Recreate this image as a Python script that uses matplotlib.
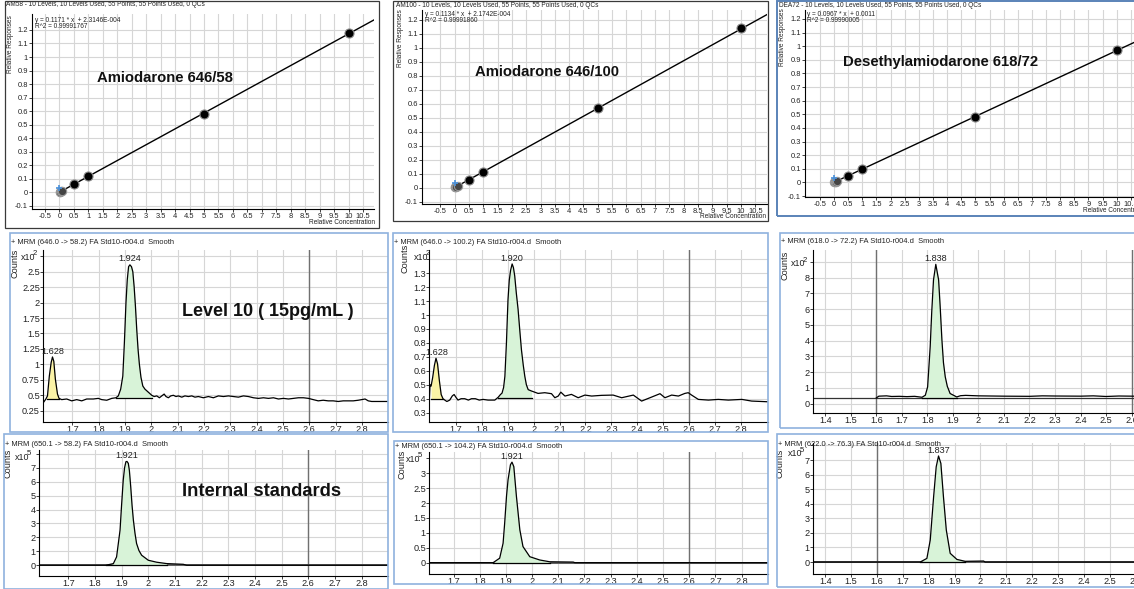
import numpy as np
import matplotlib
matplotlib.use("Agg")
import matplotlib.pyplot as plt
from matplotlib.patches import Rectangle

plt.rcParams['font.family'] = ['Liberation Sans', 'DejaVu Sans']

# ---------------- calibration data ----------------
cal_conc = [0.01, 0.02, 0.05, 0.1, 0.5, 1, 5, 10]
am58_resp = [0.001, 0.0025, 0.006, 0.012, 0.059, 0.117, 0.579, 1.174]
am100_resp = [0.001, 0.0025, 0.006, 0.012, 0.057, 0.114, 0.567, 1.138]
dea72_resp = [0.002, 0.003, 0.006, 0.011, 0.050, 0.098, 0.480, 0.972]
am58_fit = [0.1171, 2.3146e-4]
am100_fit = [0.1134, 2.1742e-4]
dea72_fit = [0.0967, 0.0011]
qc_point = [0.0, 0.03]
cal_xticks = [-0.5, 0, 0.5, 1, 1.5, 2, 2.5, 3, 3.5, 4, 4.5, 5, 5.5, 6, 6.5, 7, 7.5, 8, 8.5, 9, 9.5, 10, 10.5]
cal_yticks = [-0.1, 0, 0.1, 0.2, 0.3, 0.4, 0.5, 0.6, 0.7, 0.8, 0.9, 1, 1.1, 1.2]

# ---------------- chromatogram data ----------------
am58_t = [1.590, 1.600, 1.606, 1.613, 1.620, 1.625, 1.630, 1.636, 1.644, 1.650, 1.660, 1.679, 1.698, 1.717,
          1.736, 1.755, 1.780, 1.799, 1.812, 1.831, 1.850, 1.866,
          1.875, 1.884, 1.892, 1.898, 1.904, 1.909, 1.914, 1.919, 1.925, 1.930, 1.935, 1.940, 1.945, 1.950,
          1.955, 1.961, 1.968, 1.976, 1.989, 2.002, 2.011,
          2.021, 2.031, 2.040, 2.049, 2.056, 2.065, 2.074, 2.084, 2.094, 2.103, 2.116, 2.128, 2.141, 2.154,
          2.166, 2.179, 2.198, 2.217, 2.236, 2.255, 2.274, 2.293, 2.312, 2.331, 2.350, 2.369, 2.388, 2.407,
          2.426, 2.445, 2.464, 2.483, 2.502, 2.521, 2.540, 2.559, 2.578, 2.597, 2.615, 2.634, 2.653, 2.672,
          2.691, 2.710, 2.729, 2.748, 2.767, 2.786, 2.799, 2.812, 2.824, 2.837, 2.899]
am58_v = [0.38, 0.44, 0.49, 0.81, 1.03, 1.12, 1.05, 0.76, 0.52, 0.45, 0.43, 0.44, 0.41, 0.43, 0.41, 0.44,
          0.44, 0.45, 0.43, 0.42, 0.45, 0.46,
          0.49, 0.60, 0.81, 1.35, 1.99, 2.37, 2.58, 2.61, 2.58, 2.50, 2.26, 1.94, 1.56, 1.24, 1.00, 0.79,
          0.65, 0.60, 0.55, 0.50, 0.48,
          0.49, 0.46, 0.49, 0.52, 0.48, 0.46, 0.49, 0.50, 0.48, 0.49, 0.47, 0.49, 0.48, 0.49, 0.47, 0.48,
          0.46, 0.48, 0.46, 0.49, 0.48, 0.49, 0.48, 0.47, 0.49, 0.48, 0.46, 0.45, 0.46, 0.45, 0.46, 0.44,
          0.45, 0.44, 0.45, 0.46, 0.46, 0.45, 0.43, 0.41, 0.42, 0.41, 0.41, 0.40, 0.41, 0.41, 0.41, 0.42,
          0.43, 0.44, 0.41, 0.40, 0.40]

am100_t = [1.597, 1.600, 1.604, 1.610, 1.617, 1.623, 1.629, 1.636, 1.643, 1.650, 1.657, 1.665, 1.676, 1.686,
           1.693, 1.700, 1.708, 1.720, 1.734, 1.748, 1.760, 1.775, 1.790, 1.805, 1.824, 1.840, 1.850, 1.863,
           1.872, 1.878, 1.884, 1.889, 1.895, 1.901, 1.906, 1.911, 1.917, 1.922, 1.927, 1.933, 1.940, 1.947,
           1.953, 1.960, 1.966, 1.972, 1.979, 1.992, 2.017, 2.043, 2.069, 2.082, 2.095, 2.105, 2.121, 2.146,
           2.172, 2.198, 2.224, 2.262, 2.307, 2.340, 2.385, 2.417, 2.456, 2.488, 2.507, 2.533, 2.559, 2.584,
           2.597, 2.610, 2.636, 2.675, 2.713, 2.752, 2.804, 2.842, 2.905]
am100_v = [0.38, 0.50, 0.49, 0.55, 0.64, 0.69, 0.65, 0.53, 0.43, 0.40, 0.39, 0.38, 0.39, 0.42, 0.43, 0.41,
           0.39, 0.40, 0.40, 0.39, 0.40, 0.40, 0.39, 0.395, 0.39, 0.39, 0.39, 0.41, 0.43, 0.44, 0.48, 0.56,
           0.80, 1.11, 1.25, 1.32, 1.366, 1.34, 1.28, 1.16, 1.04, 0.88, 0.75, 0.64, 0.56, 0.50, 0.465, 0.455,
           0.438, 0.443, 0.436, 0.407, 0.419, 0.447, 0.419, 0.431, 0.407, 0.426, 0.419, 0.424, 0.426, 0.407,
           0.426, 0.383, 0.412, 0.436, 0.407, 0.426, 0.419, 0.438, 0.443, 0.426, 0.395, 0.390, 0.395, 0.390,
           0.395, 0.383, 0.378]

dea72_t = [1.600, 1.610, 1.640, 1.660, 1.690, 1.720, 1.750, 1.779, 1.792, 1.801, 1.811, 1.817, 1.824, 1.833,
           1.844, 1.850, 1.857, 1.863, 1.870, 1.878, 1.889, 1.915, 1.930, 1.950, 2.000, 2.100, 2.200, 2.250,
           2.300, 2.400, 2.450, 2.500, 2.550, 2.600, 2.672]
dea72_v = [0.36, 0.47, 0.49, 0.45, 0.46, 0.44, 0.46, 0.40, 0.53, 1.06, 3.61, 5.80, 7.86, 8.85, 7.86, 6.20,
           4.03, 2.60, 1.70, 1.10, 0.64, 0.42, 0.50, 0.52, 0.49, 0.47, 0.46, 0.49, 0.48, 0.47, 0.49, 0.45,
           0.48, 0.47, 0.46]

is58_t = [1.590, 1.841, 1.869, 1.881, 1.894, 1.900, 1.906, 1.911, 1.916, 1.920, 1.925, 1.929, 1.934, 1.939,
          1.944, 1.950, 1.956, 1.965, 1.975, 2.000, 2.031, 2.069, 2.131, 2.144, 2.899]
is58_v = [0.0, 0.0, 0.12, 0.60, 2.52, 4.40, 6.12, 7.00, 7.43, 7.45, 7.31, 6.80, 5.64, 4.30, 3.24, 2.30,
          1.56, 1.05, 0.72, 0.36, 0.22, 0.12, 0.07, 0.0, 0.0]

is104_t = [1.606, 1.851, 1.876, 1.889, 1.895, 1.902, 1.908, 1.917, 1.923, 1.930, 1.940, 1.953, 1.965, 1.991,
           2.029, 2.067, 2.157, 2.163, 2.901]
is104_v = [0.0, 0.0, 0.15, 0.65, 1.32, 2.22, 2.78, 3.28, 3.37, 3.22, 2.22, 1.10, 0.54, 0.20, 0.09, 0.03,
           0.02, 0.0, 0.0]

is76_t = [1.353, 1.767, 1.793, 1.806, 1.819, 1.829, 1.838, 1.847, 1.857, 1.868, 1.883, 1.909, 1.941, 2.012,
          2.018, 2.655]
is76_v = [0.0, 0.0, 0.25, 1.51, 4.48, 6.54, 7.28, 6.77, 4.48, 2.20, 0.60, 0.18, 0.05, 0.07, 0.0, 0.0]

rt_ticks_a = [1.7, 1.8, 1.9, 2.0, 2.1, 2.2, 2.3, 2.4, 2.5, 2.6, 2.7, 2.8]
rt_ticks_b = [1.4, 1.5, 1.6, 1.7, 1.8, 1.9, 2.0, 2.1, 2.2, 2.3, 2.4, 2.5, 2.6]
am58_yticks = [0.25, 0.5, 0.75, 1, 1.25, 1.5, 1.75, 2, 2.25, 2.5, 2.75]
am100_yticks = [0.3, 0.4, 0.5, 0.6, 0.7, 0.8, 0.9, 1, 1.1, 1.2, 1.3, 1.4]
dea72_yticks = [0, 1, 2, 3, 4, 5, 6, 7, 8, 9]
is58_yticks = [0, 1, 2, 3, 4, 5, 6, 7, 8]
is104_yticks = [0, 0.5, 1, 1.5, 2, 2.5, 3, 3.5]
is76_yticks = [0, 1, 2, 3, 4, 5, 6, 7, 8]

# ---------------- layout helpers ----------------
W, H = 1134, 589
fig = plt.figure(figsize=(W / 100, H / 100), dpi=100)
fig.patch.set_facecolor('white')


def ax_at(l, t, r, b):
    return fig.add_axes([l / W, 1 - b / H, (r - l) / W, (b - t) / H])


def box(l, t, r, b, color, lw):
    fig.add_artist(Rectangle((l / W, 1 - b / H), (r - l) / W, (b - t) / H, transform=fig.transFigure,
                             fill=False, ec=color, lw=lw, zorder=10))


def ftext(x, y, s, **kw):
    kw.setdefault('va', 'center')
    fig.text(x / W, 1 - y / H, s, **kw)


def fmt(v):
    return f'{v:g}'


GRID = '#d6d6d6'


def calib(rect, xlim, ylim, resp, fit):
    ax = ax_at(*rect)
    ax.set_xlim(xlim)
    ax.set_ylim(ylim)
    ax.set_xticks(cal_xticks)
    ax.set_yticks(cal_yticks)
    ax.set_xticklabels([fmt(v) for v in cal_xticks])
    ax.set_yticklabels([fmt(v) for v in cal_yticks])
    ax.grid(True, color=GRID, lw=0.8)
    ax.set_axisbelow(True)
    for s in ['top', 'right']:
        ax.spines[s].set_visible(False)
    for s in ['left', 'bottom']:
        ax.spines[s].set_linewidth(0.8)
    ax.tick_params(labelsize=5.4, length=2, width=0.6, pad=0.8, colors='#222')
    xs = np.array([0.0, xlim[1]])
    ax.plot(xs, fit[0] * xs + fit[1], color='k', lw=1.0, zorder=3)
    ax.plot(cal_conc[:4], resp[:4], 'o', ms=6, mfc='#444', mec='#999', mew=0.8, zorder=4)
    ax.plot(cal_conc[4:], resp[4:], 'o', ms=6.5, mfc='k', mec='#888', mew=0.8, zorder=4)
    ax.plot([qc_point[0]], [qc_point[1]], marker='+', ms=5, color='#4a90d9', mew=1.2, zorder=5)
    return ax


def chrom(rect, xlim, ylim, t, v, xticks, yticks, fills, peaks, darks, hline=None, zero=False):
    ax = ax_at(*rect)
    ax.set_xlim(xlim)
    ax.set_ylim(ylim)
    ax.set_xticks(xticks)
    ax.set_xticklabels([fmt(x) for x in xticks])
    ax.set_yticks(yticks)
    ax.set_yticklabels([fmt(y) for y in yticks[:-1]] + [''])
    ax.grid(True, color=GRID, lw=0.8)
    ax.set_axisbelow(True)
    for s in ['top', 'right']:
        ax.spines[s].set_visible(False)
    for s in ['left', 'bottom']:
        ax.spines[s].set_linewidth(0.8)
    ax.tick_params(labelsize=6.6, length=2, width=0.6, pad=0.2, colors='#222')
    for d in darks:
        ax.axvline(d, color='#707070', lw=1.0, zorder=1)
    t = np.asarray(t)
    v = np.asarray(v)
    if zero:
        ax.axhline(0, color='#555', lw=1.3, zorder=2)
    if hline is not None:
        ax.axhline(hline, color='#333', lw=0.9, zorder=2)
    for (t0, t1, base, col) in fills:
        m = (t > t0) & (t < t1)
        tt = np.concatenate([[t0], t[m], [t1]])
        vv = np.interp(tt, t, v)
        ax.fill_between(tt, vv, base, color=col, lw=0, zorder=2)
        ax.plot([t0, t1], [base, base], color='k', lw=0.9, zorder=3)
    ax.plot(t, v, color='k', lw=0.9, zorder=4)
    for (lbl, tp, vp) in peaks:
        ax.annotate(lbl, (tp, vp), xytext=(0, 1.0), textcoords='offset points', ha='center', va='bottom',
                    fontsize=6.6, color='#222', zorder=6, annotation_clip=False)
    return ax


GREEN = '#d8f3d8'
YELLOW = '#fbf3a6'

# ---------------- top row: calibration curves ----------------
calib((32, 14, 374, 209), (-0.95, 10.88), (-0.124, 1.318), am58_resp, am58_fit)
calib((422, 10, 767, 204), (-1.14, 10.91), (-0.117, 1.27), am100_resp, am100_fit)
calib((805, 10, 1150, 197), (-1.03, 11.18), (-0.107, 1.266), dea72_resp, dea72_fit)

box(5, 1, 379, 228, '#3a3a3a', 0.9)
box(393, 1, 768, 221, '#3a3a3a', 0.9)
box(777, 1, 1160, 216, '#5a83b8', 1.4)

hdr = dict(fontsize=4.7, color='#222')
ftext(6, 4.5, 'AM58 - 10 Levels, 10 Levels Used, 55 Points, 55 Points Used, 0 QCs', **hdr)
ftext(35, 20.5, 'y = 0.1171 * x  + 2.3146E-004', **hdr)
ftext(35, 26.5, 'R^2 = 0.99991767', **hdr)
ftext(396, 5.5, 'AM100 - 10 Levels, 10 Levels Used, 55 Points, 55 Points Used, 0 QCs', **hdr)
ftext(425, 15, 'y = 0.1134 * x  + 2.1742E-004', **hdr)
ftext(425, 21, 'R^2 = 0.99991860', **hdr)
ftext(779, 5.5, 'DEA72 - 10 Levels, 10 Levels Used, 55 Points, 55 Points Used, 0 QCs', **hdr)
ftext(807, 14.5, 'y = 0.0967 * x  + 0.0011', **hdr)
ftext(807, 20.5, 'R^2 = 0.99990005', **hdr)

ftext(10.5, 44, 'Relative Responses', rotation=90, ha='center', **hdr)
ftext(400.5, 38, 'Relative Responses', rotation=90, ha='center', **hdr)
ftext(783, 37, 'Relative Responses', rotation=90, ha='center', **hdr)
ftext(375, 222.5, 'Relative Concentration', ha='right', **hdr)
ftext(766.5, 216.5, 'Relative Concentration', ha='right', **hdr)
ftext(1083, 211, 'Relative Concentration', ha='left', **hdr)

big = dict(fontsize=10.7, fontweight='bold', color='#111')
ftext(97, 78, 'Amiodarone 646/58', **big)
ftext(475, 72, 'Amiodarone 646/100', **big)
ftext(843, 62, 'Desethylamiodarone 618/72', **big)

# ---------------- middle row: level 10 chromatograms ----------------
chrom((43, 250, 388, 422), (1.589, 2.899), (0.068, 2.85), am58_t, am58_v, rt_ticks_a, am58_yticks,
      [(1.603, 1.648, 0.437, YELLOW), (1.866, 2.004, 0.455, GREEN)],
      [('1.924', 1.919, 2.61), ('1.628', 1.627, 1.12)], [2.6])
chrom((429, 250, 768, 422), (1.596, 2.905), (0.233, 1.466), am100_t, am100_v, rt_ticks_a, am100_yticks,
      [(1.604, 1.650, 0.40, YELLOW), (1.863, 1.992, 0.407, GREEN)],
      [('1.920', 1.917, 1.366), ('1.628', 1.627, 0.69)], [2.6])
chrom((813, 250, 1150, 413), (1.352, 2.672), (-0.6, 9.76), dea72_t, dea72_v, rt_ticks_b, dea72_yticks,
      [(1.779, 1.915, 0.36, GREEN)],
      [('1.838', 1.833, 8.85)], [1.6, 2.6], hline=0.36)

# ---------------- bottom row: internal standards ----------------
chrom((39, 450, 388, 576), (1.59, 2.899), (-0.77, 8.27), is58_t, is58_v, rt_ticks_a, is58_yticks,
      [(1.841, 2.069, 0.0, GREEN)], [('1.921', 1.920, 7.45)], [2.6], zero=True)
chrom((429, 452, 768, 574), (1.606, 2.901), (-0.38, 3.71), is104_t, is104_v, rt_ticks_a, is104_yticks,
      [(1.851, 2.067, 0.0, GREEN)], [('1.921', 1.923, 3.37)], [2.6], zero=True)
chrom((813, 443, 1150, 574), (1.353, 2.655), (-0.82, 8.17), is76_t, is76_v, rt_ticks_b, is76_yticks,
      [(1.767, 1.941, 0.0, GREEN)], [('1.837', 1.838, 7.28)], [1.6], zero=True)

BLUE = '#8fb2de'
box(10, 233, 388, 432, BLUE, 1.2)
box(393, 233, 768, 432, BLUE, 1.2)
box(780, 233, 1160, 428, BLUE, 1.2)
box(4, 434, 388, 589, BLUE, 1.2)
box(394, 441, 768, 584, BLUE, 1.2)
box(777, 434, 1160, 587, BLUE, 1.2)

mrm = dict(fontsize=5.4, color='#222')
ftext(11, 242.5, '+ MRM (646.0 -> 58.2) FA Std10-r004.d  Smooth', **mrm)
ftext(394, 242, '+ MRM (646.0 -> 100.2) FA Std10-r004.d  Smooth', **mrm)
ftext(781, 241.5, '+ MRM (618.0 -> 72.2) FA Std10-r004.d  Smooth', **mrm)
ftext(5, 444, '+ MRM (650.1 -> 58.2) FA Std10-r004.d  Smooth', **mrm)
ftext(395, 446, '+ MRM (650.1 -> 104.2) FA Std10-r004.d  Smooth', **mrm)
ftext(778, 444, '+ MRM (622.0 -> 76.3) FA Std10-r004.d  Smooth', **mrm)

cnt = dict(fontsize=6.6, color='#222', rotation=90, ha='center')
ftext(15, 263, 'Counts', **cnt)
ftext(405, 258, 'Counts', **cnt)
ftext(785, 265, 'Counts', **cnt)
ftext(8, 463, 'Counts', **cnt)
ftext(402, 464, 'Counts', **cnt)
ftext(780, 463, 'Counts', **cnt)

xs_ = dict(fontsize=6.4, color='#222', ha='left')
es_ = dict(fontsize=5.6, color='#222', ha='left')
for (x, y, e) in [(21, 257, '2'), (414, 257, '2'), (791, 264, '2'), (15, 457, '5'), (406, 459, '5'),
                  (788, 454, '5')]:
    ftext(x, y, 'x10', **xs_)
    ftext(x + 11.5, y - 3.5, e, **es_)

ftext(182, 311, 'Level 10 ( 15pg/mL )', fontsize=13, fontweight='bold', color='#111')
ftext(182, 492, 'Internal standards', fontsize=13.2, fontweight='bold', color='#111')

fig.savefig('out.png', dpi=100)
